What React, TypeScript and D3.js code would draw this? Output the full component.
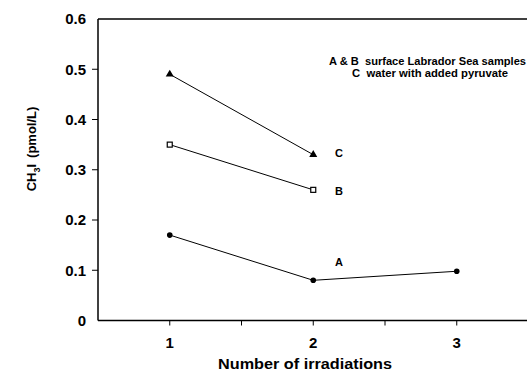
import React from "react";
import * as d3 from "d3";

const irradiations = [1, 2, 3];
const seriesA = [0.17, 0.08, 0.098];
const seriesB = [0.35, 0.26];
const seriesC = [0.49, 0.33];
const yTicks = [0, 0.1, 0.2, 0.3, 0.4, 0.5, 0.6];
const xTicks = [1, 1.5, 2, 2.5, 3];
const xLabels = [1, 2, 3];
const legendLines = ["A & B  surface Labrador Sea samples", "C  water with added pyruvate"];

export default function App() {
  const W = 527, H = 374;
  const x = d3.scaleLinear().domain([0.5, 3.5]).range([98, 528.5]);
  const y = d3.scaleLinear().domain([0, 0.6]).range([320.5, 19]);
  const line = d3.line<[number, number]>().x(d => x(d[0])).y(d => y(d[1]));
  const pts = (vals: number[]) => vals.map((v, i) => [irradiations[i], v] as [number, number]);
  const font = "Liberation Sans, Arial, sans-serif";
  const tri = d3.symbol().type(d3.symbolTriangle).size(28)();
  return (
    <svg width={W} height={H} style={{ position: "absolute", left: 0, top: 0, background: "#fff" }} fontFamily={font}>
      <path d={`M${x(0.5)},${y(0)}H${W}`} stroke="#000" strokeWidth={1.5} fill="none" />
      <path d={`M${x(0.5)},${y(0.6)}H${W}`} stroke="#000" strokeWidth={1.5} fill="none" />
      <path d={`M${x(0.5)},${y(0)}V${y(0.6)}`} stroke="#000" strokeWidth={1.5} fill="none" />
      {yTicks.map(t => (
        <g key={t}>
          {t > 0 && t < 0.6 && <line x1={x(0.5) - 6} x2={x(0.5)} y1={y(t)} y2={y(t)} stroke="#000" strokeWidth={1} />}
          <text x={86} y={y(t)} dy="0.36em" textAnchor="end" fontSize={15} fontWeight="bold">{t === 0 ? "0" : t.toFixed(1)}</text>
        </g>
      ))}
      {xTicks.map(t => (
        <line key={t} x1={x(t)} x2={x(t)} y1={y(0)} y2={y(0) + 5} stroke="#000" strokeWidth={1} />
      ))}
      {xLabels.map(t => (
        <text key={t} x={x(t)} y={343} dy="0.36em" textAnchor="middle" fontSize={15} fontWeight="bold">{t}</text>
      ))}
      <text x={305} y={364} dy="0.36em" textAnchor="middle" fontSize={15} fontWeight="bold" textLength={174} lengthAdjust="spacingAndGlyphs">Number of irradiations</text>
      <text transform={`translate(31,149) rotate(-90)`} textAnchor="middle" fontSize={13} fontWeight="bold" dy="0.36em">
        CH<tspan fontSize={9} dy="4">3</tspan><tspan dy="-4">I</tspan><tspan dx="6">(pmol/L)</tspan>
      </text>
      <path d={line(pts(seriesA)) || ""} stroke="#000" strokeWidth={1} fill="none" />
      <path d={line(pts(seriesB)) || ""} stroke="#000" strokeWidth={1} fill="none" />
      <path d={line(pts(seriesC)) || ""} stroke="#000" strokeWidth={1} fill="none" />
      {pts(seriesA).map((p, i) => <circle key={i} cx={x(p[0])} cy={y(p[1])} r={2.8} fill="#000" />)}
      {pts(seriesB).map((p, i) => <rect key={i} x={x(p[0]) - 2.5} y={y(p[1]) - 2.5} width={5} height={5} fill="#fff" stroke="#000" strokeWidth={1.2} />)}
      {pts(seriesC).map((p, i) => <path key={i} d={tri || ""} transform={`translate(${x(p[0])},${y(p[1])})`} fill="#000" />)}
      <text x={339} y={y(0.1155)} dy="0.36em" textAnchor="middle" fontSize={11} fontWeight="bold">A</text>
      <text x={339} y={y(0.258)} dy="0.36em" textAnchor="middle" fontSize={11} fontWeight="bold">B</text>
      <text x={339} y={y(0.333)} dy="0.36em" textAnchor="middle" fontSize={11} fontWeight="bold">C</text>
      <text x={329} y={61.7} dy="0.36em" fontSize={10} fontWeight="bold" xmlSpace="preserve" style={{ whiteSpace: "pre" }} textLength={197} lengthAdjust="spacingAndGlyphs">{legendLines[0]}</text>
      <text x={352} y={73.3} dy="0.36em" fontSize={10} fontWeight="bold" xmlSpace="preserve" style={{ whiteSpace: "pre" }} textLength={156} lengthAdjust="spacingAndGlyphs">{legendLines[1]}</text>
    </svg>
  );
}
